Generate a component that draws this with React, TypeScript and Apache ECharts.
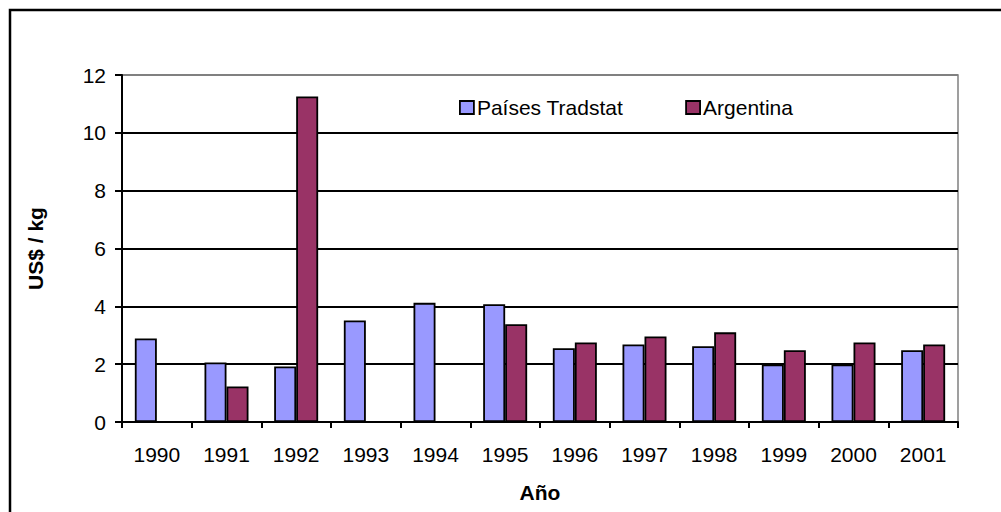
import React, { useEffect, useRef } from "react";
import * as echarts from "echarts";

const years = ["1990", "1991", "1992", "1993", "1994", "1995", "1996", "1997", "1998", "1999", "2000", "2001"];
const paisesTradstat = [2.89, 2.06, 1.92, 3.51, 4.12, 4.07, 2.55, 2.68, 2.62, 1.99, 1.99, 2.48];
const argentina = [null, 1.23, 11.26, null, null, 3.38, 2.75, 2.96, 3.1, 2.48, 2.75, 2.68];
const seriesNames = ["Países Tradstat", "Argentina"];
const yTitle = "US$ / kg";
const xTitle = "Año";

const FONT = "'Liberation Sans', Arial, sans-serif";

export default function App() {
  const ref = useRef<HTMLDivElement>(null);
  useEffect(() => {
    if (!ref.current) return;
    const chart = echarts.init(ref.current, null, { renderer: "svg" });
    chart.setOption({
      animation: false,
      backgroundColor: "#ffffff",
      textStyle: { fontFamily: FONT },
      grid: {
        left: 122,
        right: 43,
        top: 75,
        bottom: 90,
        show: true,
        borderColor: "#808080",
        borderWidth: 1.5,
        backgroundColor: "transparent",
      },
      legend: {
        left: 459,
        top: 97,
        padding: 0,
        itemWidth: 14,
        itemHeight: 13,
        itemGap: 62,
        icon: "rect",
        data: seriesNames,
        itemStyle: { borderColor: "#000", borderWidth: 1.8 },
        textStyle: { fontSize: 21, color: "#000", fontFamily: FONT, padding: [0, 0, 0, -2] },
      },
      xAxis: {
        type: "category",
        data: years,
        name: xTitle,
        nameLocation: "middle",
        nameGap: 60,
        nameTextStyle: { fontSize: 21, fontWeight: "bold", color: "#000", fontFamily: FONT },
        axisLine: { lineStyle: { color: "#000", width: 2 } },
        axisTick: { show: true, length: 6, lineStyle: { color: "#000", width: 2 } },
        axisLabel: { fontSize: 21, color: "#000", margin: 22, fontFamily: FONT },
      },
      yAxis: {
        type: "value",
        min: 0,
        max: 12,
        interval: 2,
        name: yTitle,
        nameLocation: "middle",
        nameGap: 76,
        nameRotate: 90,
        nameTextStyle: { fontSize: 21, fontWeight: "bold", color: "#000", fontFamily: FONT },
        axisLine: { show: true, lineStyle: { color: "#000", width: 2 } },
        axisTick: { show: true, length: 7, lineStyle: { color: "#000", width: 2 } },
        axisLabel: { fontSize: 21, color: "#000", margin: 16, fontFamily: FONT },
        splitLine: {
          show: true,
          lineStyle: { color: ["#000", "#000", "#000", "#000", "#000", "#000", "#808080"], width: 2 },
        },
      },
      series: [
        {
          name: seriesNames[0],
          type: "bar",
          data: paisesTradstat,
          barWidth: 22,
          barGap: "0%",
          itemStyle: { color: "#9999FF", borderColor: "#000", borderWidth: 1.8 },
        },
        {
          name: seriesNames[1],
          type: "bar",
          data: argentina,
          barWidth: 22,
          barGap: "0%",
          itemStyle: { color: "#993366", borderColor: "#000", borderWidth: 1.8 },
        },
      ],
      graphic: [
        {
          type: "rect",
          shape: { x: 10, y: 10, width: 1100, height: 700 },
          style: { fill: "none", stroke: "#000", lineWidth: 2.5 },
          silent: true,
          z: 100,
        },
      ],
    });
    return () => chart.dispose();
  }, []);
  return (
    <div
      ref={ref}
      style={{ position: "fixed", left: 0, top: 0, width: 1001, height: 512, background: "#fff" }}
    />
  );
}
